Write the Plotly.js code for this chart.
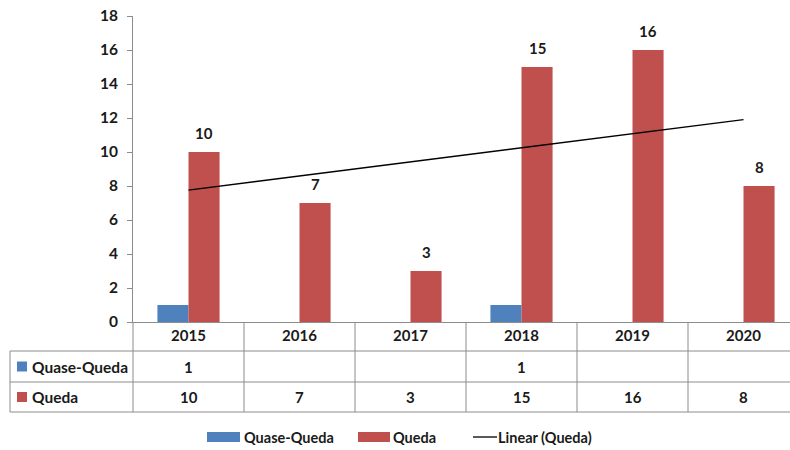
<!DOCTYPE html>
<html>
<head>
<meta charset="utf-8">
<script src="https://cdn.plot.ly/plotly-3.0.1.min.js"></script>
<style>
html,body{margin:0;padding:0;overflow:hidden;background:#fff;width:790px;height:450px;}
#chart{width:800px;height:450px;}
</style>
</head>
<body>
<div id="chart"></div>
<script>
var years = ['2015', '2016', '2017', '2018', '2019', '2020'];
var quaseQueda = [1, null, null, 1, null, null];
var queda = [10, 7, 3, 15, 16, 8];
var seriesNames = ['Quase-Queda', 'Queda', 'Linear (Queda)'];
var yTicks = [0, 2, 4, 6, 8, 10, 12, 14, 16, 18];

var BLUE = '#4F81BD', RED = '#C0504D', GRID = '#8c8c8c', TXT = '#1a1a1a';
var FONT = 'Lato, "Liberation Sans", Arial, sans-serif';

// least-squares linear trend of Queda (Excel "Linear" trendline)
var n = queda.length, sx = 0, sy = 0, sxy = 0, sxx = 0;
for (var i = 0; i < n; i++) { sx += i; sy += queda[i]; sxy += i * queda[i]; sxx += i * i; }
var slope = (n * sxy - sx * sy) / (n * sxx - sx * sx);
var intercept = (sy - slope * sx) / n;
var trend = years.map(function (_, i) { return intercept + slope * i; });

// plot geometry (pixels)
var L = 133, R = 799, T = 16, B = 322, W = 800, H = 450;
function xp(px) { return (px - L) / (R - L); }
function yp(py) { return (B - py) / (B - T); }

var traces = [
  {type: 'bar', name: seriesNames[0], x: years, y: quaseQueda, marker: {color: BLUE}, hoverinfo: 'none'},
  {type: 'bar', name: seriesNames[1], x: years, y: queda, marker: {color: RED}, hoverinfo: 'none'},
  {type: 'scatter', mode: 'lines', name: seriesNames[2], x: years, y: trend, line: {color: '#000', width: 1.3}, hoverinfo: 'none'}
];

var shapes = [];
var annotations = [];
function hline(y, x0, x1) {
  shapes.push({type: 'line', xref: 'paper', yref: 'paper', x0: xp(x0), x1: xp(x1), y0: yp(y), y1: yp(y), line: {color: GRID, width: 1}});
}
function vline(x, y0, y1) {
  shapes.push({type: 'line', xref: 'paper', yref: 'paper', x0: xp(x), x1: xp(x), y0: yp(y0), y1: yp(y1), line: {color: GRID, width: 1}});
}
var rowY = [351, 382, 412];
hline(rowY[0], 10, R); hline(rowY[1], 10, R); hline(rowY[2], 10, R);
vline(10, rowY[0], rowY[2]);
vline(L, B, rowY[2]);
for (var c = 1; c <= years.length; c++) {
  vline(L + c * (R - L) / years.length, B, rowY[2]);
}

// row labels with swatches
var rowNames = [seriesNames[0], seriesNames[1]];
var rowColors = [BLUE, RED];
var rowData = [quaseQueda, queda];
for (var r = 0; r < 2; r++) {
  var cy = (rowY[r] + rowY[r + 1]) / 2;
  shapes.push({type: 'rect', xref: 'paper', yref: 'paper', x0: xp(17), x1: xp(27), y0: yp(cy - 5), y1: yp(cy + 5), fillcolor: rowColors[r], line: {width: 0}});
  annotations.push({xref: 'paper', yref: 'paper', x: xp(30), y: yp(cy), xanchor: 'left', yanchor: 'middle', showarrow: false, text: rowNames[r], font: {family: FONT, size: 15.5, color: TXT, weight: 'bold'}});
  for (var k = 0; k < years.length; k++) {
    if (rowData[r][k] === null) continue;
    annotations.push({xref: 'x', yref: 'paper', x: k, y: yp(cy), xanchor: 'center', yanchor: 'middle', showarrow: false, text: String(rowData[r][k]), font: {family: FONT, size: 15, color: TXT, weight: 'bold'}});
  }
}

// data labels above Queda bars
for (var k = 0; k < years.length; k++) {
  annotations.push({xref: 'x', yref: 'y', x: k + 0.14, y: queda[k], xanchor: 'center', yanchor: 'bottom', yshift: 8, showarrow: false, text: String(queda[k]), font: {family: FONT, size: 15, color: TXT, weight: 'bold'}});
}

// custom legend
var LY = 437;
var LF = {family: FONT, size: 14.5, color: TXT, weight: 'bold'};
shapes.push({type: 'rect', xref: 'paper', yref: 'paper', x0: xp(207), x1: xp(240), y0: yp(LY - 5), y1: yp(LY + 5), fillcolor: BLUE, line: {width: 0}});
annotations.push({xref: 'paper', yref: 'paper', x: xp(242), y: yp(LY), xanchor: 'left', yanchor: 'middle', showarrow: false, text: seriesNames[0], font: LF});
shapes.push({type: 'rect', xref: 'paper', yref: 'paper', x0: xp(358), x1: xp(390), y0: yp(LY - 5), y1: yp(LY + 5), fillcolor: RED, line: {width: 0}});
annotations.push({xref: 'paper', yref: 'paper', x: xp(391), y: yp(LY), xanchor: 'left', yanchor: 'middle', showarrow: false, text: seriesNames[1], font: LF});
shapes.push({type: 'line', xref: 'paper', yref: 'paper', x0: xp(473), x1: xp(497), y0: yp(LY), y1: yp(LY), line: {color: '#000', width: 1.3}});
annotations.push({xref: 'paper', yref: 'paper', x: xp(496), y: yp(LY), xanchor: 'left', yanchor: 'middle', showarrow: false, text: seriesNames[2], font: LF});

var layout = {
  width: W, height: H,
  margin: {l: L, r: W - R, t: T, b: H - B, pad: 0},
  paper_bgcolor: '#fff', plot_bgcolor: '#fff',
  showlegend: false,
  barmode: 'group', bargap: 0.44, bargroupgap: 0,
  font: {family: FONT, color: TXT},
  xaxis: {
    type: 'category', range: [-0.5, 5.5], showline: true, linecolor: GRID, linewidth: 1,
    ticks: '', showgrid: false, zeroline: false, fixedrange: true,
    tickfont: {family: FONT, size: 15, color: TXT, weight: 'bold'}
  },
  yaxis: {
    range: [0, 18], tickvals: yTicks, ticktext: yTicks.map(String),
    showline: true, linecolor: GRID, linewidth: 1, ticks: 'outside', ticklen: 5, tickcolor: GRID,
    showgrid: false, zeroline: false, fixedrange: true, ticklabelstandoff: 6,
    tickfont: {family: FONT, size: 15.5, color: TXT, weight: 'bold'}
  },
  shapes: shapes,
  annotations: annotations
};

Plotly.newPlot('chart', traces, layout, {staticPlot: true});
</script>
</body>
</html>
